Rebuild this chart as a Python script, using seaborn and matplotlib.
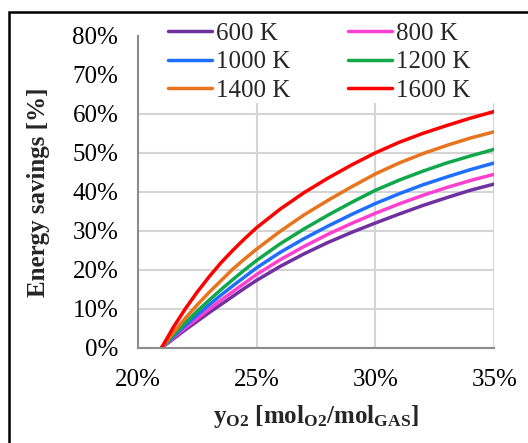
# Energy savings vs O2 mole fraction, one curve per temperature

import matplotlib
matplotlib.use('Agg')
import matplotlib.pyplot as plt
import matplotlib.ticker as mticker
import seaborn as sns

# 데이터 (in %)
y_o2 = [21, 21.5, 22, 22.5, 23, 23.5, 24, 24.5, 25, 26, 27, 28, 29, 30, 31, 32, 33, 34, 35]
s_600 = [0, 2.3, 4.6, 6.8, 9.0, 11.1, 13.2, 15.3, 17.3, 20.9, 24.1, 27.0, 29.6, 32.0, 34.3, 36.5, 38.5, 40.4, 42.0]
s_800 = [0, 2.6, 5.1, 7.5, 9.9, 12.2, 14.4, 16.6, 18.8, 22.6, 26.0, 29.1, 31.9, 34.5, 36.9, 39.1, 41.1, 42.9, 44.5]
s_1000 = [0, 2.9, 5.7, 8.4, 11.0, 13.5, 15.9, 18.2, 20.5, 24.5, 28.0, 31.2, 34.2, 37.0, 39.5, 41.8, 43.8, 45.7, 47.4]
s_1200 = [0, 3.3, 6.4, 9.4, 12.2, 14.9, 17.5, 20.0, 22.4, 26.7, 30.5, 34.0, 37.3, 40.4, 43.0, 45.3, 47.4, 49.2, 50.9]
s_1400 = [0, 3.9, 7.6, 11.0, 14.2, 17.2, 20.2, 22.8, 25.3, 29.9, 34.1, 37.8, 41.3, 44.6, 47.4, 49.8, 51.9, 53.8, 55.4]
s_1600 = [0, 5.3, 10.0, 14.3, 18.2, 21.8, 25.0, 28.0, 30.8, 35.6, 39.8, 43.5, 46.9, 50.0, 52.7, 55.0, 57.0, 58.9, 60.6]

labels = ['600 K', '800 K', '1000 K', '1200 K', '1400 K', '1600 K']
series = [s_600, s_800, s_1000, s_1200, s_1400, s_1600]
colors = ['#7030A0', '#FF3FD0', '#1F6FFF', '#10A84A', '#E8741E', '#FF0000']

x_ticks = [20, 25, 30, 35]
y_ticks = [0, 10, 20, 30, 40, 50, 60, 70, 80]

sns.set_style('white')
plt.rcParams['font.family'] = ['Liberation Serif', 'DejaVu Serif']
plt.rcParams['mathtext.fontset'] = 'custom'
plt.rcParams['mathtext.rm'] = 'Liberation Serif'
plt.rcParams['mathtext.bf'] = 'Liberation Serif:bold'
plt.rcParams['mathtext.it'] = 'Liberation Serif:italic'

fig = plt.figure(figsize=(5.28, 4.43), dpi=100)
ax = fig.add_axes([0.261, 0.215, 0.675, 0.704])

for vals, lab, col in zip(series, labels, colors):
    sns.lineplot(x=y_o2, y=vals, color=col, label=lab, lw=2.5, ax=ax,
                 solid_joinstyle='round', solid_capstyle='round')

ax.set_xlim(20, 35)
ax.set_ylim(0, 80)
ax.set_xticks(x_ticks)
ax.set_yticks(y_ticks)
pct = mticker.FuncFormatter(lambda v, p: '{:.0f}%'.format(v))
ax.xaxis.set_major_formatter(pct)
ax.yaxis.set_major_formatter(pct)

# 격자, 축
ax.grid(True, color='#D4D4D4', lw=1.5)
ax.set_axisbelow(True)
for side in ['top', 'right']:
    ax.spines[side].set_visible(False)
for side in ['left', 'bottom']:
    ax.spines[side].set_color('#8C8C8C')
    ax.spines[side].set_linewidth(1.5)
ax.tick_params(axis='both', direction='out', length=5, width=1.3, color='#8C8C8C',
               labelsize=18, labelcolor='black')
ax.tick_params(axis='x', pad=10)
ax.tick_params(axis='y', pad=9)

# white band behind the legend (hides the top gridlines)
ax.add_patch(plt.Rectangle((0.004, 0.784), 1.02, 0.3, transform=ax.transAxes,
                           facecolor='white', edgecolor='none', zorder=1, clip_on=False))

ax.set_ylabel('Energy savings [%]', fontsize=18, fontweight='bold')
ax.yaxis.set_label_coords(-0.247, 0.5)
ax.set_xlabel(r'$\mathbf{y_{O2}\ [mol_{O2}/mol_{GAS}]}$', fontsize=18)
ax.xaxis.set_label_coords(0.5, -0.176)

# legend row-wise: 600/800, 1000/1200, 1400/1600
h, l = ax.get_legend_handles_labels()
order = [0, 2, 4, 1, 3, 5]
ax.legend([h[i] for i in order], [l[i] for i in order], ncol=2, frameon=False,
          loc='upper left', bbox_to_anchor=(0.084, 1.043), borderpad=0, borderaxespad=0,
          fontsize=18, handlelength=1.76, handletextpad=0.16, columnspacing=2.3,
          labelspacing=0.24)

# outer black frame (top and left visible)
fig.patches.append(plt.Rectangle((8.5 / 528, -0.2), 1.2, 1.2 - 11.7 / 443,
                                 transform=fig.transFigure, fill=False,
                                 edgecolor='black', lw=1.8))

fig.savefig('out.png', dpi=100)
